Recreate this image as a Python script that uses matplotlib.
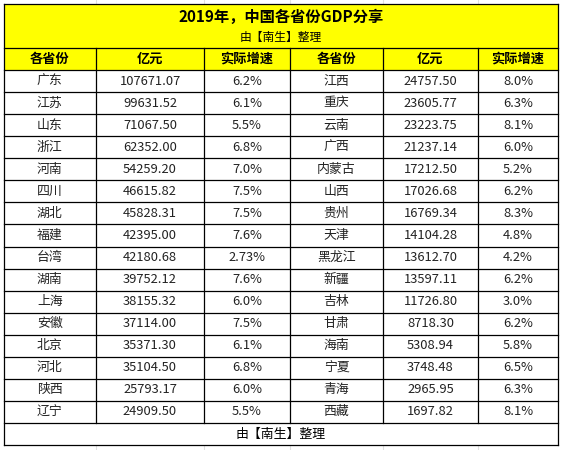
import matplotlib
matplotlib.use("Agg")
import matplotlib.pyplot as plt
from matplotlib.patches import Rectangle

plt.rcParams['font.family'] = ['Noto Sans CJK SC', 'DejaVu Sans']

title = "2019年，中国各省份GDP分享"
subtitle = "由【南生】整理"
headers = ["各省份", "亿元", "实际增速", "各省份", "亿元", "实际增速"]
left_prov = ["广东", "江苏", "山东", "浙江", "河南", "四川", "湖北", "福建", "台湾", "湖南", "上海", "安徽", "北京", "河北", "陕西", "辽宁"]
left_gdp = ["107671.07", "99631.52", "71067.50", "62352.00", "54259.20", "46615.82", "45828.31", "42395.00", "42180.68", "39752.12", "38155.32", "37114.00", "35371.30", "35104.50", "25793.17", "24909.50"]
left_growth = ["6.2%", "6.1%", "5.5%", "6.8%", "7.0%", "7.5%", "7.5%", "7.6%", "2.73%", "7.6%", "6.0%", "7.5%", "6.1%", "6.8%", "6.0%", "5.5%"]
right_prov = ["江西", "重庆", "云南", "广西", "内蒙古", "山西", "贵州", "天津", "黑龙江", "新疆", "吉林", "甘肃", "海南", "宁夏", "青海", "西藏"]
right_gdp = ["24757.50", "23605.77", "23223.75", "21237.14", "17212.50", "17026.68", "16769.34", "14104.28", "13612.70", "13597.11", "11726.80", "8718.30", "5308.94", "3748.48", "2965.95", "1697.82"]
right_growth = ["8.0%", "6.3%", "8.1%", "6.0%", "5.2%", "6.2%", "8.3%", "4.8%", "4.2%", "6.2%", "3.0%", "6.2%", "5.8%", "6.5%", "6.3%", "8.1%"]
footer = "由【南生】整理"

W, H = 565, 450
fig = plt.figure(figsize=(W/100, H/100), dpi=100)
ax = fig.add_axes([0, 0, 1, 1])
ax.set_xlim(0, W); ax.set_ylim(H, 0); ax.axis('off')

cols = [3.5, 96, 204, 290, 383, 478, 558]
top, title_b, head_b = 3.5, 48, 70
n = len(left_prov)
foot_t, foot_b = 423, 445
rh = (foot_t - head_b) / n

for x in cols[1:-1]:
    ax.plot([x, x], [0, H], color='#e0e0e0', lw=0.8, zorder=0)

ax.add_patch(Rectangle((cols[0], top), cols[-1]-cols[0], head_b-top, facecolor='#ffff00', edgecolor='none', zorder=1))
ax.add_patch(Rectangle((cols[0], head_b), cols[-1]-cols[0], foot_b-head_b, facecolor='white', edgecolor='none', zorder=1))

lc = 'black'; lw = 0.9
ys = [top, title_b, head_b] + [head_b + rh*i for i in range(1, n+1)] + [foot_b]
for y in ys:
    ax.plot([cols[0], cols[-1]], [y, y], color=lc, lw=lw, zorder=3)
for x in cols:
    if x in (cols[0], cols[-1]):
        ax.plot([x, x], [top, foot_b], color=lc, lw=lw, zorder=3)
    else:
        ax.plot([x, x], [title_b, foot_t], color=lc, lw=lw, zorder=3)

ax.text((cols[0]+cols[-1])/2, 17, title, ha='center', va='center', fontsize=11, fontweight='bold', zorder=4)
ax.text((cols[0]+cols[-1])/2, 37, subtitle, ha='center', va='center', fontsize=8.5, zorder=4)
for i, h in enumerate(headers):
    ax.text((cols[i]+cols[i+1])/2, (title_b+head_b)/2, h, ha='center', va='center', fontsize=9.5, fontweight='bold', zorder=4)
for r in range(n):
    yc = head_b + rh*(r+0.5)
    vals = [left_prov[r], left_gdp[r], left_growth[r], right_prov[r], right_gdp[r], right_growth[r]]
    for i, v in enumerate(vals):
        ax.text((cols[i]+cols[i+1])/2, yc, v, ha='center', va='center', fontsize=9.3, color='#222222', zorder=4)
ax.text((cols[0]+cols[-1])/2, (foot_t+foot_b)/2, footer, ha='center', va='center', fontsize=9.3, zorder=4)

fig.savefig('out.png', dpi=100)
